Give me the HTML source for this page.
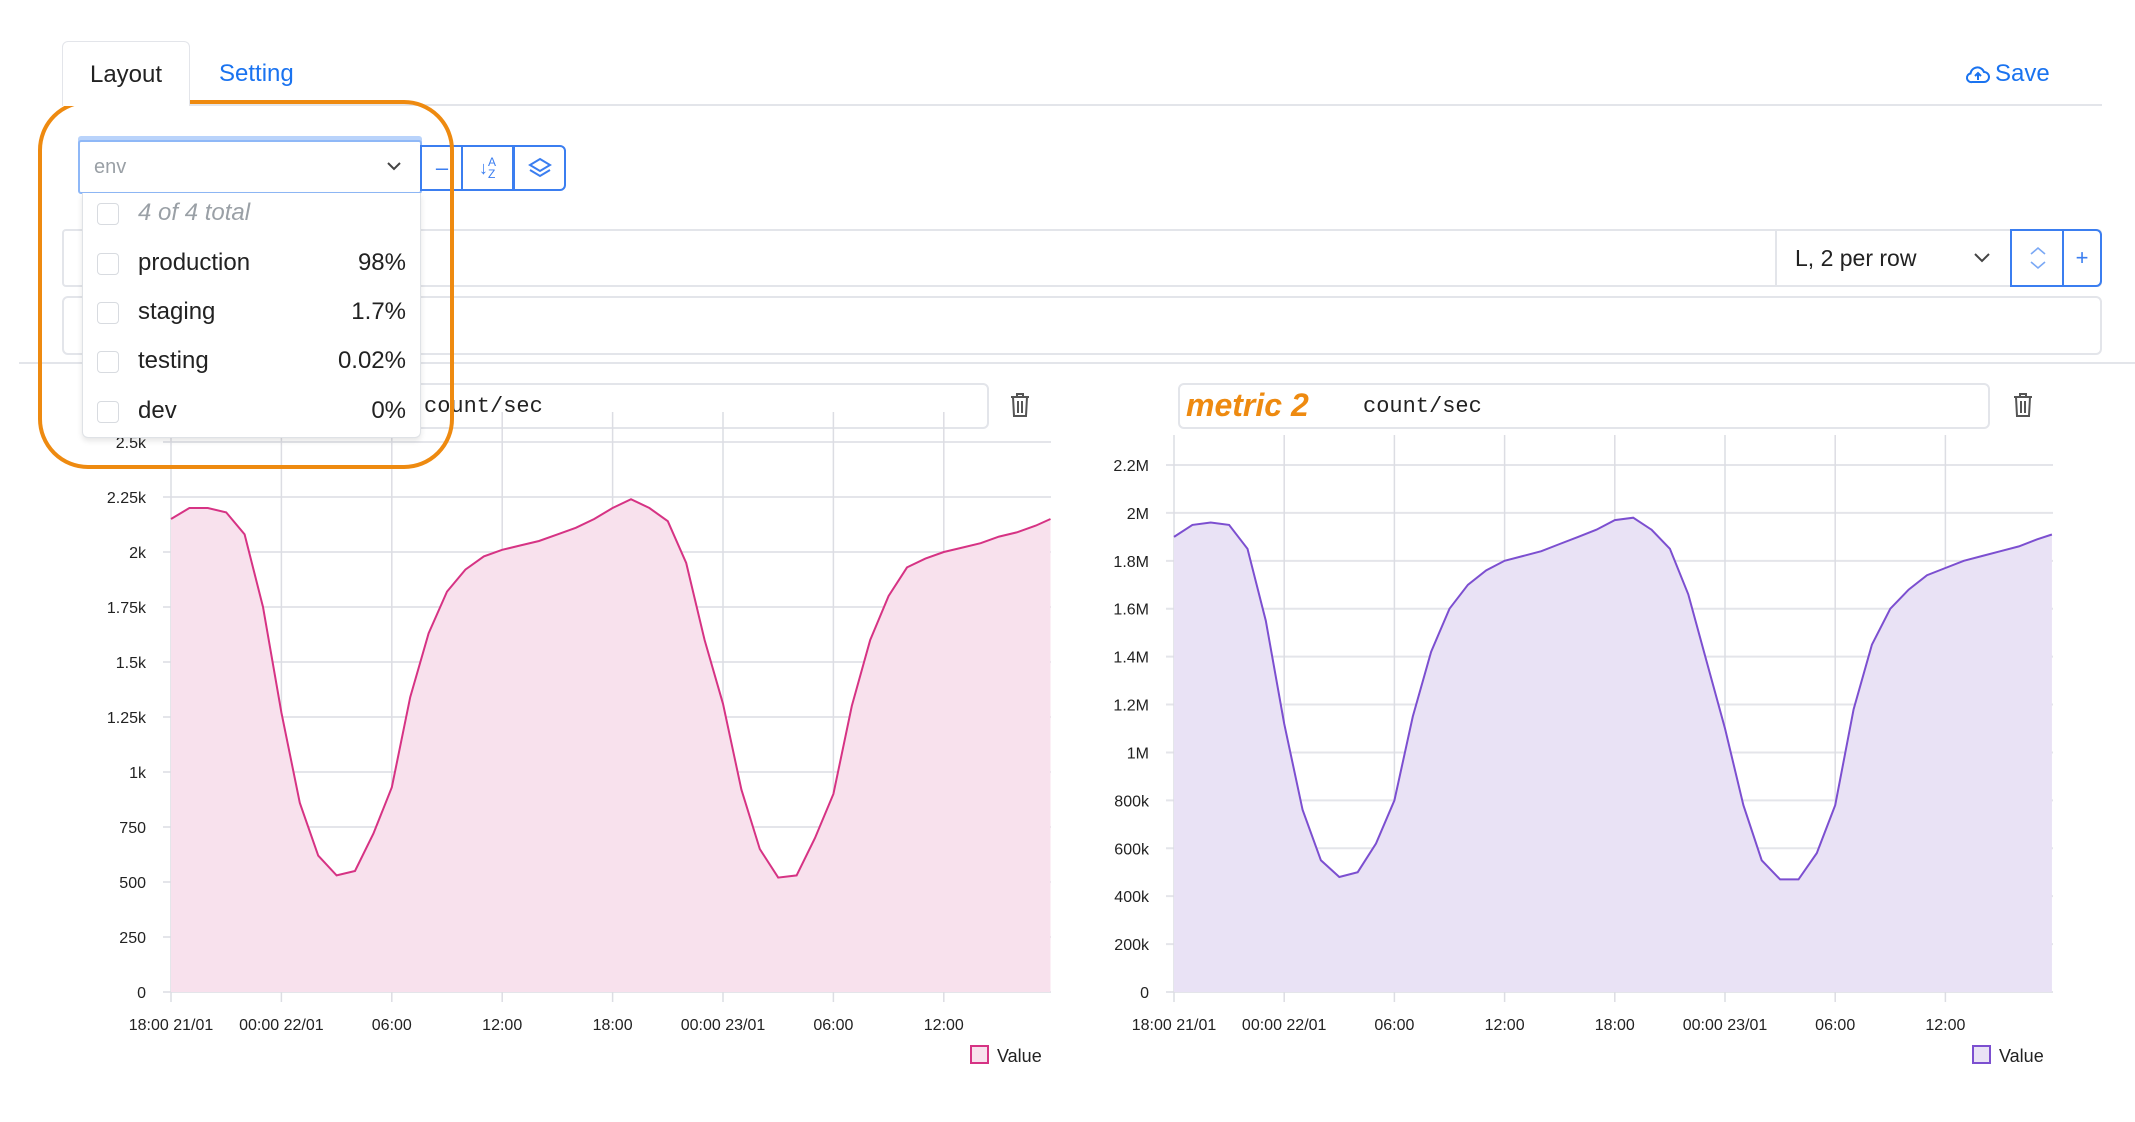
<!DOCTYPE html>
<html><head><meta charset="utf-8"><style>
*{box-sizing:border-box}
body{margin:0;width:2135px;height:1122px;background:#fff;font-family:"Liberation Sans",sans-serif;position:relative;overflow:hidden;color:#222}
.a{position:absolute}
.tab{left:62px;top:41px;width:128px;height:65px;border:1px solid #e3e5ea;border-bottom:none;border-radius:6px 6px 0 0;background:#fff;font-size:24px;text-align:center;line-height:66px;z-index:2}
.box{border:2px solid #e3e5ea;border-radius:6px;background:#fff}
.btn{border:2px solid #3b7ef0;background:#fff;color:#3b7ef0;display:flex;align-items:center;justify-content:center;font-size:22px}
.item{position:absolute;left:14px;right:14px;height:40px;font-size:24px;line-height:40px}
.cb{position:absolute;left:0;top:10px;width:22px;height:22px;border:1.5px solid #d8dbe0;border-radius:4px;background:#fff}
.item .t{position:absolute;left:41px}
.item .p{position:absolute;right:0}
.mono{font-family:"Liberation Mono",monospace;font-size:22px;color:#222}
</style></head><body>
<div class="a tab">Layout</div>
<div class="a" style="left:219px;top:60px;font-size:24px;color:#1a73f0">Setting</div>
<div class="a" style="left:62px;top:104px;width:2040px;height:2px;background:#e3e5ea"></div>
<div class="a" style="left:1965px;top:60px;font-size:24px;color:#1a73f0;display:flex;align-items:center;gap:4px">
<svg width="26" height="22" viewBox="0 0 26 22"><path d="M7 19h12a5 5 0 0 0 0-10 7 7 0 0 0-13.5 1.5A4.3 4.3 0 0 0 7 19z" fill="none" stroke="#1a73f0" stroke-width="2"/><path d="M13 17V10M10 13l3-3 3 3" fill="none" stroke="#1a73f0" stroke-width="2"/></svg>Save</div>

<div class="a" style="left:78px;top:140px;width:344px;height:54px;border:2px solid #8fb8f7;box-shadow:0 -4px 0 #b9d3fb;background:#fff;border-radius:3px">
<span class="a" style="left:14px;top:14px;font-size:20px;color:#9aa0a6">env</span>
<svg class="a" style="left:306px;top:18px" width="16" height="12"><path d="M2 3l6 6 6-6" fill="none" stroke="#444" stroke-width="2"/></svg></div>
<div class="a btn" style="left:420px;top:145px;width:42px;height:46px;border-right:none">–</div>
<div class="a btn" style="left:461px;top:145px;width:53px;height:46px;font-size:18px">↓<span style="font-size:12px;line-height:12px">A<br>Z</span></div>
<div class="a btn" style="left:513px;top:145px;width:53px;height:46px;border-radius:0 6px 6px 0">
<svg width="26" height="24" viewBox="0 0 26 24"><path d="M13 3l10 6-10 6-10-6z M3 14l10 6 10-6" fill="none" stroke="#3b7ef0" stroke-width="2"/></svg></div>

<div class="a box" style="left:62px;top:229px;width:2040px;height:58px;border-radius:4px"></div>
<div class="a" style="left:1775px;top:231px;width:234px;height:54px;border-left:2px solid #e3e5ea;background:#fff;font-size:23px;line-height:54px;padding-left:18px">L, 2 per row
<svg class="a" style="left:196px;top:21px" width="18" height="12"><path d="M2 2l7 7 7-7" fill="none" stroke="#444" stroke-width="2"/></svg></div>
<div class="a btn" style="left:2010px;top:229px;width:54px;height:58px;flex-direction:column;border-right:none">
<svg width="22" height="26"><path d="M4 9l7-6 7 6M4 17l7 6 7-6" fill="none" stroke="#7aa8f5" stroke-width="1.6"/></svg></div>
<div class="a btn" style="left:2062px;top:229px;width:40px;height:58px;border-radius:0 6px 6px 0;font-size:22px">+</div>
<div class="a box" style="left:62px;top:296px;width:2040px;height:59px"></div>
<div class="a" style="left:19px;top:362px;width:2116px;height:2px;background:#e3e5ea"></div>

<div class="a box" style="left:140px;top:383px;width:849px;height:46px"><span class="a mono" style="left:282px;top:9px">count/sec</span></div>
<div class="a" style="left:1008px;top:392px"><svg width="24" height="26"><path d="M3 5h18M9 5V2h6v3M5 5l1 19h12l1-19M10 9v12M14 9v12" fill="none" stroke="#555" stroke-width="2"/></svg></div>
<div class="a box" style="left:1178px;top:383px;width:812px;height:46px">
<span class="a" style="left:6px;top:2px;font-family:'Liberation Sans',sans-serif;font-style:italic;font-weight:bold;font-size:32px;color:#ee8a10">metric 2</span>
<span class="a mono" style="left:183px;top:9px">count/sec</span></div>
<div class="a" style="left:2011px;top:392px"><svg width="24" height="26"><path d="M3 5h18M9 5V2h6v3M5 5l1 19h12l1-19M10 9v12M14 9v12" fill="none" stroke="#555" stroke-width="2"/></svg></div>

<svg class="a" id="charts" style="left:0;top:0" width="2135" height="1122"></svg>

<div class="a" style="left:82px;top:193px;width:339px;height:245px;background:#fff;border:1.5px solid #dfe2e6;border-top:none;border-radius:0 0 6px 6px;box-shadow:0 3px 6px rgba(0,0,0,.1)">
<div class="item" style="top:0"><span class="cb"></span><span class="t" style="color:#9aa0a6;font-style:italic">4 of 4 total</span></div>
<div class="item" style="top:50px"><span class="cb"></span><span class="t">production</span><span class="p">98%</span></div>
<div class="item" style="top:99px"><span class="cb"></span><span class="t">staging</span><span class="p">1.7%</span></div>
<div class="item" style="top:148px"><span class="cb"></span><span class="t">testing</span><span class="p">0.02%</span></div>
<div class="item" style="top:198px"><span class="cb"></span><span class="t">dev</span><span class="p">0%</span></div>
</div>
<div class="a" style="left:38px;top:100px;width:416px;height:369px;border:4px solid #ee8a10;border-radius:50px"></div>

<script>
const hours=[0,1,2,3,4,5,6,7,8,9,10,11,12,13,14,15,16,17,18,19,20,21,22,23,24,25,26,27,28,29,30,31,32,33,34,35,36,37,38,39,40,41,42,43,44,45,46,47,47.8];
const xTickHours=[0,6,12,18,24,30,36,42];
const xTickLabels=["18:00 21/01","00:00 22/01","06:00","12:00","18:00","00:00 23/01","06:00","12:00"];
const series1=[2150,2200,2200,2180,2080,1750,1270,860,620,530,550,720,930,1340,1630,1820,1920,1980,2010,2030,2050,2080,2110,2150,2200,2240,2200,2140,1950,1600,1310,920,650,520,530,700,900,1300,1600,1800,1930,1970,2000,2020,2040,2070,2090,2120,2150];
const ticks1=[0,250,500,750,1000,1250,1500,1750,2000,2250,2500];
const tickLabels1=["0","250","500","750","1k","1.25k","1.5k","1.75k","2k","2.25k","2.5k"];
const series2=[1900000,1950000,1960000,1950000,1850000,1550000,1120000,760000,550000,480000,500000,620000,800000,1150000,1420000,1600000,1700000,1760000,1800000,1820000,1840000,1870000,1900000,1930000,1970000,1980000,1930000,1850000,1660000,1380000,1100000,780000,550000,470000,470000,580000,780000,1180000,1450000,1600000,1680000,1740000,1770000,1800000,1820000,1840000,1860000,1890000,1910000];
const ticks2=[0,200000,400000,600000,800000,1000000,1200000,1400000,1600000,1800000,2000000,2200000];
const tickLabels2=["0","200k","400k","600k","800k","1M","1.2M","1.4M","1.6M","1.8M","2M","2.2M"];

const NS="http://www.w3.org/2000/svg";
const svg=document.getElementById('charts');
function mk(t,a,p){const e=document.createElementNS(NS,t);for(const k in a)e.setAttribute(k,a[k]);(p||svg).appendChild(e);return e;}
function chart(o){
  const g=mk('g',{});
  
  
  const X=h=>o.x0+(h/6)*o.dx, Y=v=>o.y0-(v/o.ymax)*(o.y0-o.ytop);
  o.ticks.forEach((t,i)=>{
    const l=mk('line',{x1:o.x0-8,x2:o.xr,y1:Y(t),y2:Y(t),stroke:'#e4e5ea','stroke-width':2},g);
    
    
    const tx=mk('text',{x:o.x0-25,y:Y(t)+6,'text-anchor':'end','font-size':16,fill:'#222'},g);tx.textContent=o.tl[i];
    
    
  });
  xTickHours.forEach((h,i)=>{
    const l=mk('line',{x1:X(h),x2:X(h),y1:o.ytop-30,y2:o.y0+10,stroke:'#dcdde3','stroke-width':1.5},g);
    
    
    const tx=mk('text',{x:X(h),y:o.y0+38,'text-anchor':'middle','font-size':16,fill:'#222'},g);tx.textContent=xTickLabels[i];
    
    
  });
  let d='';o.data.forEach((v,i)=>{d+=(i?'L':'M')+X(hours[i]).toFixed(1)+' '+Y(v).toFixed(1);});
  const area=mk('path',{d:d+`L${X(hours[hours.length-1])} ${o.y0}L${X(0)} ${o.y0}Z`,fill:o.fill},g);
  
  
  const line=mk('path',{d:d,fill:'none',stroke:o.color,'stroke-width':2},g);
  
  
  const lx=o.legX;
  const sq=mk('rect',{x:lx,y:1046,width:17,height:17,fill:o.fill,stroke:o.color,'stroke-width':2},g);
  
  
  const lt=mk('text',{x:lx+26,y:1062,'font-size':18,fill:'#222'},g);lt.textContent='Value';
  
  
}
chart({name:'metric-1-chart',x0:171,dx:110.4,xr:1051,y0:992,ytop:442,ymax:2500,ticks:ticks1,tl:tickLabels1,data:series1,color:'#d63384',fill:'#f8e1ed',legX:971});
chart({name:'metric-2-chart',x0:1174,dx:110.2,xr:2053,y0:992,ytop:465,ymax:2200000,ticks:ticks2,tl:tickLabels2,data:series2,color:'#7c4fd0',fill:'#e9e2f5',legX:1973});
</script>
</body></html>
